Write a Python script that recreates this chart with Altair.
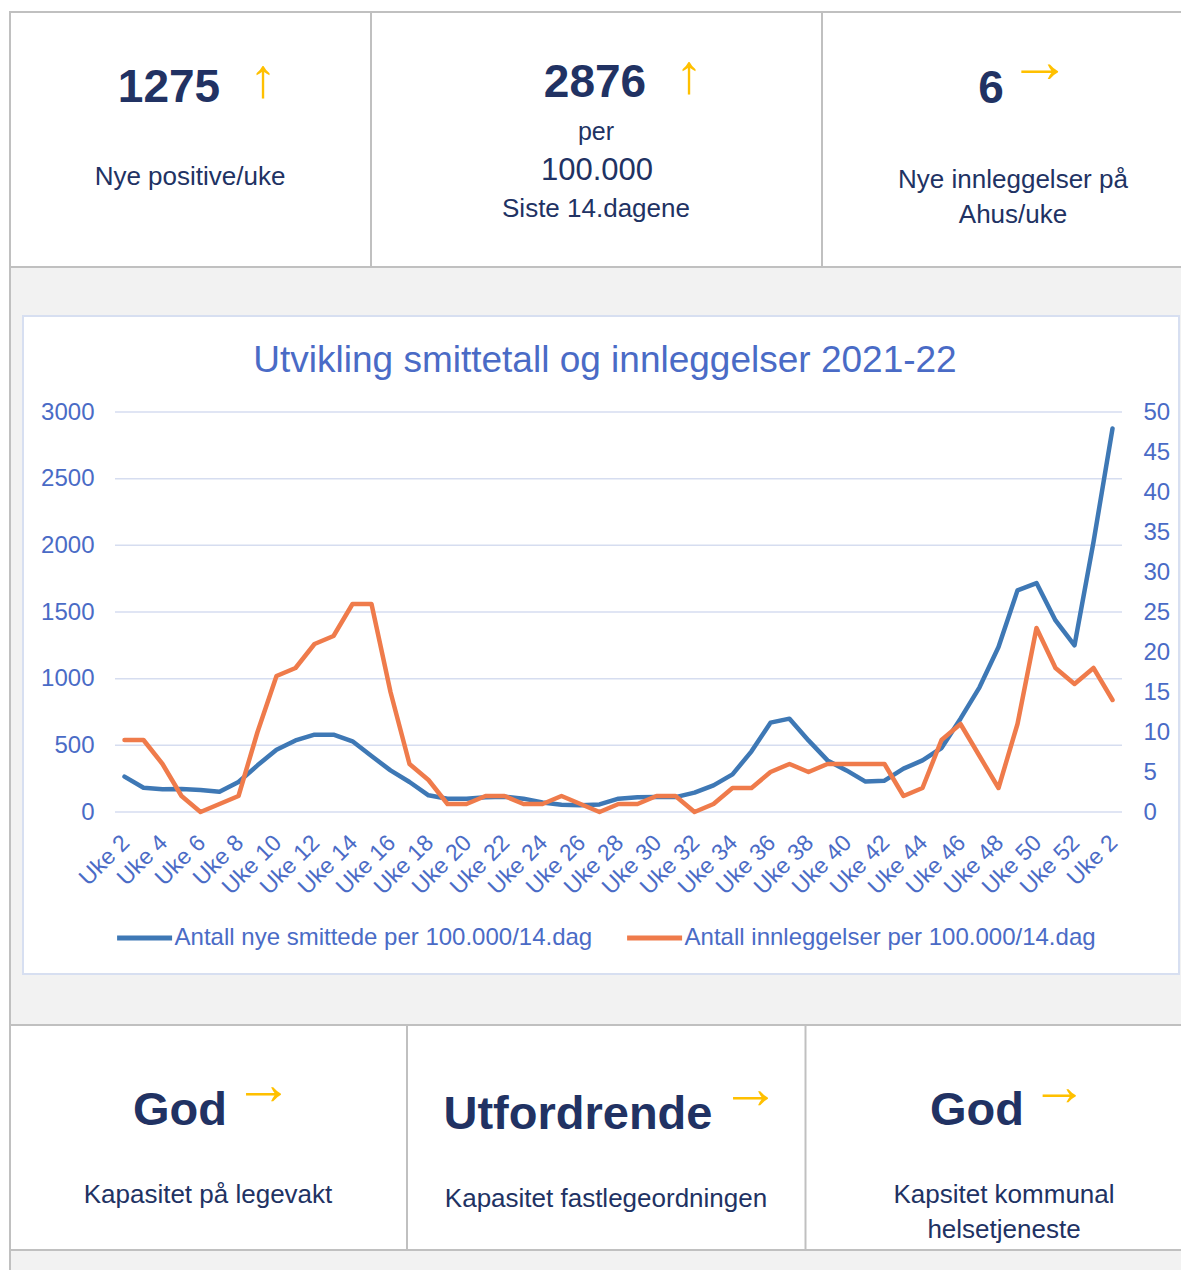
import altair as alt
import pandas as pd

# ---------------- data ----------------
WEEK_NUMBERS = [2, 3, 4, 5, 6, 7, 8, 9, 10, 11, 12, 13, 14, 15, 16, 17, 18, 19, 20, 21,
                22, 23, 24, 25, 26, 27, 28, 29, 30, 31, 32, 33, 34, 35, 36, 37, 38, 39, 40, 41,
                42, 43, 44, 45, 46, 47, 48, 49, 50, 51, 52, 1, 2]
WEEK_YEARS = [2021] * 51 + [2022] * 2

SMITTE = [265, 182, 170, 172, 165, 152, 225, 350, 467, 537,
          580, 580, 530, 420, 312, 225, 125, 100, 100, 110,
          115, 100, 72, 55, 50, 57, 100, 110, 112, 112,
          145, 200, 282, 455, 670, 700, 537, 387, 312, 228,
          235, 325, 387, 480, 700, 935, 1237, 1662, 1717, 1437,
          1250, 2025, 2876]
INNLEGGELSER = [9, 9, 6, 2, 0, 1, 2, 10, 17, 18,
                21, 22, 26, 26, 15, 6, 4, 1, 1, 2,
                2, 1, 1, 2, 1, 0, 1, 1, 2, 2,
                0, 1, 3, 3, 5, 6, 5, 6, 6, 6,
                6, 2, 3, 9, 11, 7, 3, 11, 23, 18,
                16, 18, 14]

SERIES = ["Antall nye smittede per 100.000/14.dag",
          "Antall innleggelser per 100.000/14.dag"]
LEFT_TICKS = [0, 500, 1000, 1500, 2000, 2500, 3000]
RIGHT_TICKS = [0, 5, 10, 15, 20, 25, 30, 35, 40, 45, 50]
CHART_TITLE = "Utvikling smittetall og innleggelser 2021-22"

KEYS = [f"{y}|Uke {w}" for y, w in zip(WEEK_YEARS, WEEK_NUMBERS)]

long_df = pd.DataFrame({
    "uke": KEYS + KEYS,
    "serie": [SERIES[0]] * len(KEYS) + [SERIES[1]] * len(KEYS),
    "verdi": SMITTE + INNLEGGELSER,
})

# ---------------- style ----------------
FONT = "Liberation Sans, Arial, sans-serif"
NAVY = "#213263"
GOLD = "#ffc000"
AXIS_BLUE = "#4a6bc6"
BLUE = "#3e78b5"
ORANGE = "#ef7b4b"
GRID = "#d6ddf0"
BORDER = "#c0c0c0"
BOX_BORDER = "#d7dff1"
GRAY = "#f2f2f2"

# ---------------- layout (page pixels) ----------------
PAGE_MARGIN = 8
PLOT_LEFT, PLOT_TOP = 115, 412
PLOT_W, PLOT_H = 1007, 400
CANVAS_W, CANVAS_H = 1173, 1262
PAD = {"left": PLOT_LEFT - PAGE_MARGIN, "top": PLOT_TOP - PAGE_MARGIN,
       "right": CANVAS_W - (PLOT_LEFT - PAGE_MARGIN) - PLOT_W,
       "bottom": CANVAS_H - (PLOT_TOP - PAGE_MARGIN) - PLOT_H}


def px(x):
    return x - PLOT_LEFT


def py(y):
    return y - PLOT_TOP


ONE = pd.DataFrame({"k": [0]})


def box(x1, y1, x2, y2, fill, stroke="", sw=0):
    kw = dict(fill=fill)
    if stroke:
        kw.update(stroke=stroke, strokeWidth=sw)
    else:
        kw.update(strokeWidth=0)
    return alt.Chart(ONE).mark_rect(**kw).encode(
        x=alt.value(px(x1)), x2=alt.value(px(x2)),
        y=alt.value(py(y1)), y2=alt.value(py(y2)))


def vline(x, y1, y2, color=BORDER, sw=2):
    return alt.Chart(ONE).mark_rule(color=color, strokeWidth=sw).encode(
        x=alt.value(px(x)), y=alt.value(py(y1)), y2=alt.value(py(y2)))


def label(txt, x, y, size, weight="normal", color=NAVY, align="center"):
    return alt.Chart(ONE).mark_text(
        text=txt, fontSize=size, fontWeight=weight, color=color, font=FONT,
        align=align, baseline="alphabetic").encode(
        x=alt.value(px(x)), y=alt.value(py(y)))


def up_arrow(xc, y_bottom, size=55):
    return label("\u2191", xc, y_bottom, size, color=GOLD)


def right_arrow(x1, x2, yc, size=62):
    return label("\u2192", (x1 + x2) / 2, yc + 0.17 * size, size, color=GOLD)


decor = [
    box(10, 267, 1200, 1300, GRAY),
    vline(10, 12, 1300),
    # top KPI row
    box(10, 12, 1200, 267, "white", BORDER, 2),
    vline(371, 12, 267),
    vline(822, 12, 267),
    # chart box
    box(23, 316, 1179, 974, "white", BOX_BORDER, 2),
    # bottom KPI row
    box(10, 1025, 1200, 1250, "white", BORDER, 2),
    vline(407, 1025, 1250),
    vline(805.5, 1025, 1250),
]

texts = [
    label("1275", 169, 102, 46, "bold"),
    up_arrow(263, 97),
    label("Nye positive/uke", 190, 185, 26),
    label("2876", 595, 97, 46, "bold"),
    up_arrow(689, 93),
    label("per", 596, 140, 25),
    label("100.000", 597, 180, 31),
    label("Siste 14.dagene", 596, 217, 26),
    label("6", 991, 103, 46, "bold"),
    right_arrow(1019, 1060, 71),
    label("Nye innleggelser på", 1013, 188, 26),
    label("Ahus/uke", 1013, 223, 26),
    label("God", 180, 1125, 47, "bold"),
    right_arrow(244, 283, 1094, 59),
    label("Kapasitet på legevakt", 208, 1203, 26),
    label("Utfordrende", 578, 1129, 47, "bold"),
    right_arrow(731, 770, 1098, 59),
    label("Kapasitet fastlegeordningen", 606, 1207, 26),
    label("God", 977, 1125, 47, "bold"),
    right_arrow(1041, 1077, 1095, 56),
    label("Kapsitet kommunal", 1004, 1203, 26),
    label("helsetjeneste", 1004, 1238, 26),
    label(CHART_TITLE, 605, 372, 37, color=AXIS_BLUE),
]

# ---------------- chart ----------------
x_enc = alt.X(
    "uke:N", sort=KEYS,
    scale=alt.Scale(type="point", padding=0.5),
    axis=alt.Axis(values=KEYS[::2], labelExpr="split(datum.value, '|')[1]",
                  labelAngle=-45, labelAlign="right", labelBaseline="top",
                  labelPadding=19, labelOffset=-7, labelFontSize=23,
                  labelColor=AXIS_BLUE, labelFont=FONT, labelOverlap=False,
                  domain=False, ticks=False, tickSize=0, grid=False,
                  title=None, zindex=1))

color_enc = alt.Color(
    "serie:N",
    scale=alt.Scale(domain=SERIES, range=[BLUE, ORANGE]),
    legend=alt.Legend(orient="none", legendX=-0.4, legendY=496,
                      direction="horizontal", title=None,
                      symbolType="stroke", symbolSize=3025, symbolStrokeWidth=5,
                      labelFontSize=24, labelColor=AXIS_BLUE, labelFont=FONT,
                      labelOffset=0, columnPadding=24, labelLimit=800, padding=0))

grid = alt.Chart(pd.DataFrame({"v": LEFT_TICKS})).mark_rule(
    color=GRID, strokeWidth=1.5).encode(
    y=alt.Y("v:Q", scale=alt.Scale(domain=[0, 3000], nice=False), axis=None),
    x=alt.value(0), x2=alt.value(PLOT_W))

base = alt.Chart(long_df)

line_left = base.transform_filter(alt.datum.serie == SERIES[0]).mark_line(
    strokeWidth=4.5, strokeCap="round", strokeJoin="round").encode(
    x=x_enc,
    y=alt.Y("verdi:Q", scale=alt.Scale(domain=[0, 3000], nice=False),
            axis=alt.Axis(orient="left", values=LEFT_TICKS, format="d",
                          labelFontSize=24,
                          labelColor=AXIS_BLUE, labelFont=FONT, labelPadding=21,
                          domain=False, ticks=False, tickSize=0, grid=False,
                          title=None, zindex=1)),
    color=color_enc)

line_right = base.transform_filter(alt.datum.serie == SERIES[1]).mark_line(
    strokeWidth=4.5, strokeCap="round", strokeJoin="round").encode(
    x=x_enc,
    y=alt.Y("verdi:Q", scale=alt.Scale(domain=[0, 50], nice=False),
            axis=alt.Axis(orient="right", values=RIGHT_TICKS, format="d",
                          labelFontSize=24,
                          labelColor=AXIS_BLUE, labelFont=FONT, labelPadding=21,
                          domain=False, ticks=False, tickSize=0, grid=False,
                          title=None, zindex=1)),
    color=color_enc)

chart = alt.layer(*decor, *texts, grid, line_left, line_right).resolve_scale(
    y="independent").properties(
    width=PLOT_W, height=PLOT_H, padding=PAD, background="white",
    autosize=alt.AutoSizeParams(type="none")
).configure_view(strokeWidth=0)

chart.save("out.html", embed_options={"renderer": "svg", "actions": False})
